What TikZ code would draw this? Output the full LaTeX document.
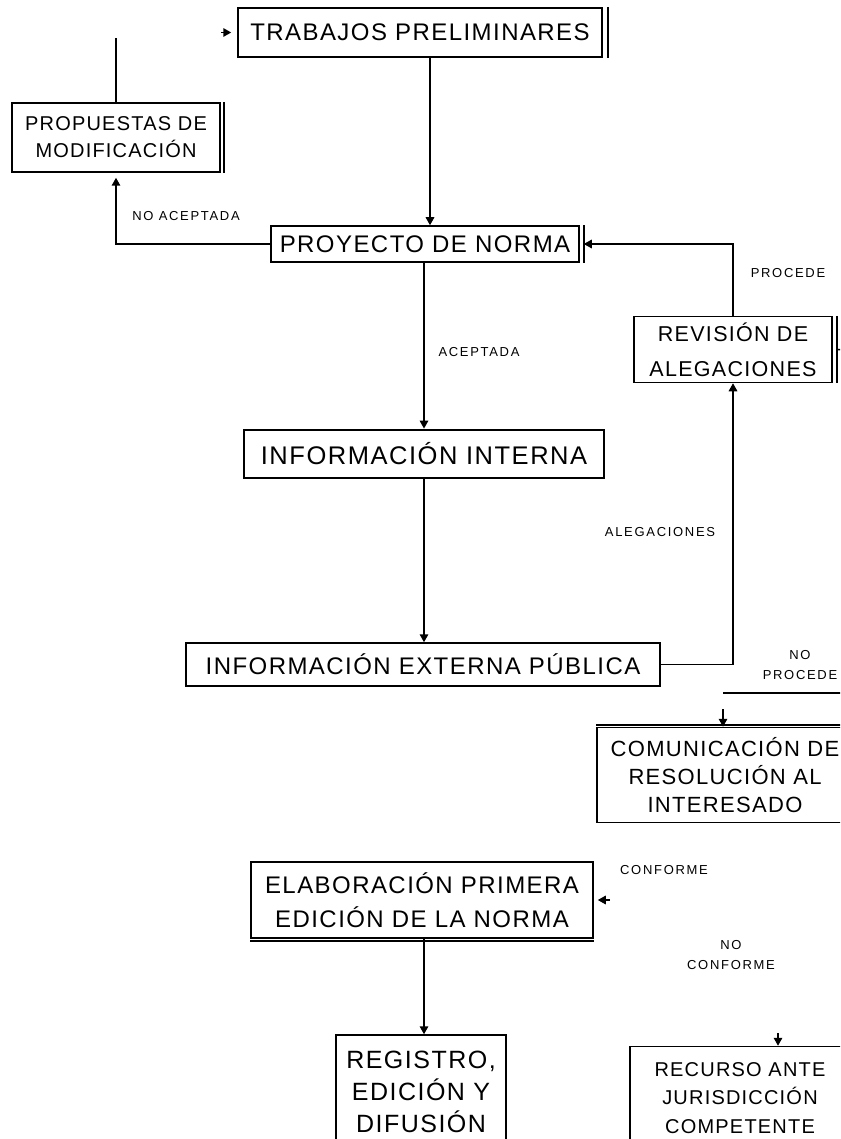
\documentclass[tikz,border=0pt]{standalone}
\usepackage{fontspec}
\setmainfont{Liberation Sans}
\newfontfamily\boxfont{Liberation Sans}[LetterSpace=6]
\newfontfamily\tagfont{Liberation Sans}[LetterSpace=13]
\usetikzlibrary{arrows.meta}
\begin{document}
\begin{tikzpicture}[x=1pt,y=-1pt,
  box/.style={draw, line width=1.5pt, inner sep=0pt, align=center},
  fs/.style 2 args={font=\boxfont\fontsize{#1}{#2}\selectfont},
  flow/.style={line width=1.6pt, -{Triangle[length=8pt,width=8.5pt]}},
  link/.style={line width=1.6pt},
  tag/.style={font=\tagfont\fontsize{13}{20}\selectfont, align=center, inner sep=0pt},
  rim/.style={line width=1.5pt}]
\useasboundingbox (0,0) rectangle (840,1139);
\clip (0,0) rectangle (840,1139);

% boxes
\node[box, fs={24}{30}, minimum width=364pt, minimum height=49pt] (trab) at (420,32.5) {TRABAJOS PRELIMINARES};
\node[box, fs={20}{27}, minimum width=208pt, minimum height=69pt] (prop) at (116,137.5) {PROPUESTAS DE\\MODIFICACIÓN};
\node[box, fs={24}{30}, minimum width=308pt, minimum height=36pt] (proy) at (425,244) {PROYECTO DE NORMA};
\node[box, fs={25.5}{30}, line width=2.8pt, minimum width=360pt, minimum height=48pt] (intn) at (424,454) {INFORMACIÓN INTERNA};
\node[box, fs={24}{30}, minimum width=474pt, minimum height=43pt] (ext) at (423,664.5) {INFORMACIÓN EXTERNA PÚBLICA};
\node[box, fs={21.5}{35}, minimum width=198pt, minimum height=66pt] (rev) at (733,349.5) {REVISIÓN DE\\ALEGACIONES};
\node[box, fs={24}{34}, minimum width=342pt, minimum height=76pt] (elab) at (422,900) {ELABORACIÓN PRIMERA\\EDICIÓN DE LA NORMA};
\node[box, fs={25}{32}, minimum width=170pt, minimum height=114pt] (reg) at (421,1092) {REGISTRO,\\EDICIÓN Y\\DIFUSIÓN};
\node[box, fs={22}{28}, minimum width=256pt, minimum height=95pt] (com) at (725,775) {COMUNICACIÓN DE\\RESOLUCIÓN AL\\INTERESADO};
\node[box, fs={20}{28.5}, minimum width=220pt, minimum height=103pt] (rec) at (740,1098) {RECURSO ANTE\\JURISDICCIÓN\\COMPETENTE};

% offset edges beside some boxes
\draw[rim] ([xshift=5pt]trab.north east) -- ([xshift=5pt]trab.south east);
\draw[rim] ([xshift=4pt]proy.north east) -- ([xshift=4pt]proy.south east);
\draw[rim] ([xshift=3pt]prop.north east) -- ([xshift=3pt]prop.south east);
\draw[rim] ([xshift=4pt]rev.north east) -- ([xshift=4pt]rev.south east);
\draw[rim] ([yshift=-2pt]elab.south west) -- ([yshift=-2pt]elab.south east);
\draw[rim] ([yshift=2pt]com.north west) -- ([yshift=2pt]com.north east);

% free ends of connectors
\coordinate (topend) at (116,38);
\coordinate (trabtail) at (221,32.5);
\coordinate (npright) at (850,693);
\coordinate (npleft) at (723,693);
\coordinate (comtail) at (723,709);
\coordinate (elabtail) at (610,900);
\coordinate (rectail) at (778,1033);
\coordinate (revright) at (850,350);

% connectors
\draw[flow] (trab.south -| 430,0) -- (proy.north -| 430,0);
\draw[flow] (proy.west) -| ([yshift=-5pt]prop.south);
\draw[link] (prop.north) -- (topend);
\draw[flow] (trabtail) -- ([xshift=-6pt]trab.west);
\draw[flow] (proy.south -| intn.north) -- (intn.north);
\draw[flow] (intn.south) -- (intn.south |- ext.north);
\draw[flow] (ext.east) -| (rev.south);
\draw[flow] (rev.north) |- ([xshift=4pt]proy.east);
\draw[link] ([xshift=4pt]rev.east) -- (revright);
\draw[link] (npleft) -- (npright);
\draw[flow] (comtail) -- (comtail |- com.north);
\draw[flow] (elab.south -| 424,0) -- (reg.north -| 424,0);
\draw[flow] (elabtail) -- ([xshift=4pt]elab.east);
\draw[flow] (rectail) -- (rectail |- rec.north);

% connector labels
\node[tag] (lnoacep) at (186,216) {NO ACEPTADA};
\node[tag] (lacep) at (479,352) {ACEPTADA};
\node[tag] (lproc) at (788,273) {PROCEDE};
\node[tag] (laleg) at (660,532) {ALEGACIONES};
\node[tag] (lnoproc) at (800,665) {NO\\PROCEDE};
\node[tag] (lconf) at (664,870) {CONFORME};
\node[tag] (lnoconf) at (731,955) {NO\\CONFORME};
\end{tikzpicture}
\end{document}
